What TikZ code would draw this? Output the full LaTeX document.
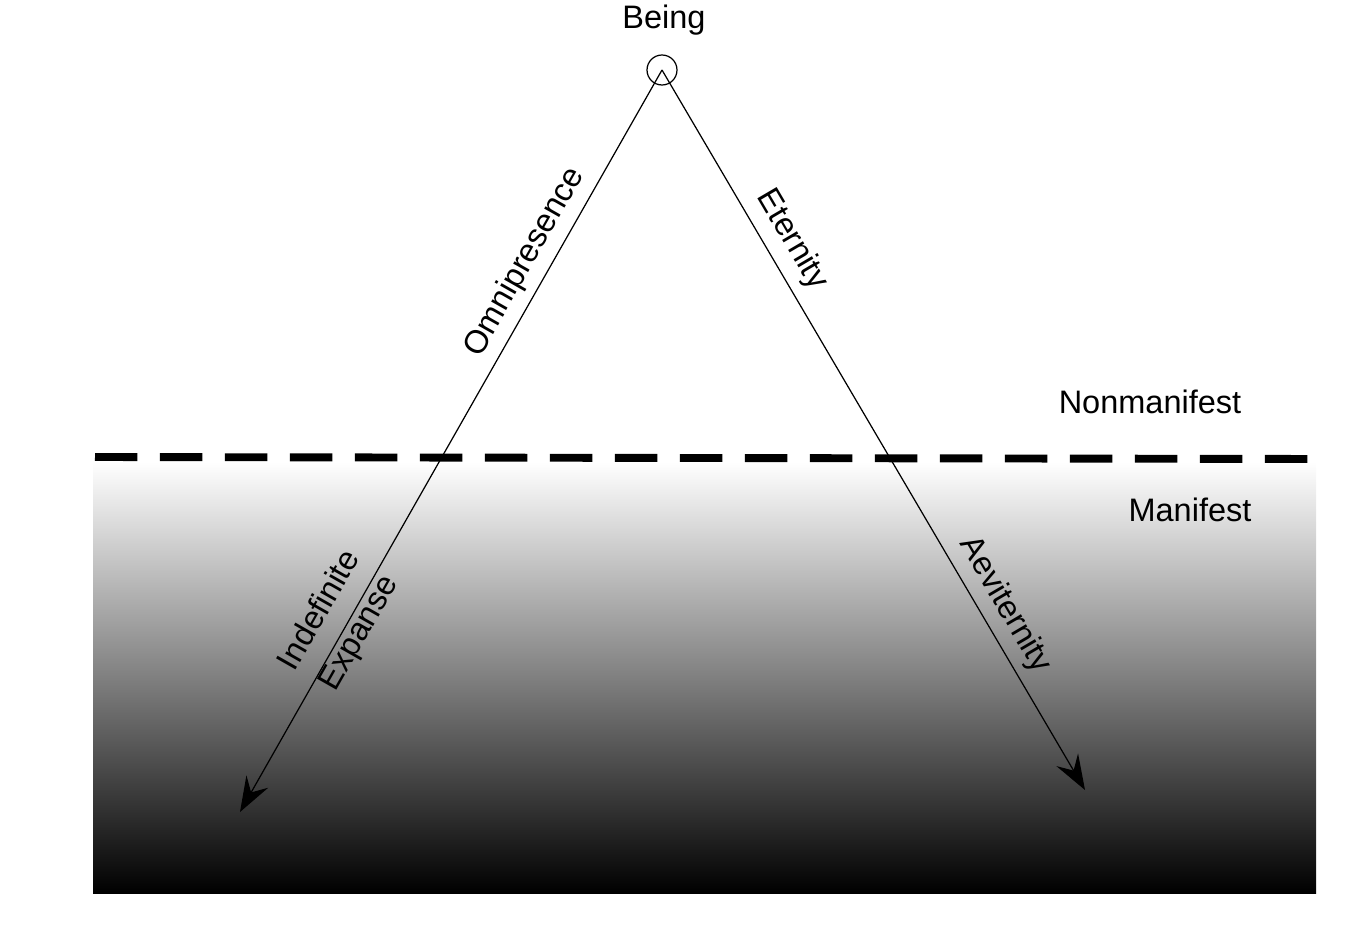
\documentclass[tikz,border=0pt]{standalone}
\usepackage{fontspec}
\setmainfont{Liberation Sans}
\usetikzlibrary{arrows.meta}
\tikzset{
    lbl/.style={font=\fontsize{18.5}{26}\selectfont, inner sep=1pt},
    ray/.style={line width=0.7pt, -{Stealth[length=0.7cm, width=0.5cm, inset=0.25cm]}}
}
\begin{document}
\begin{tikzpicture}[x=0.02cm, y=-0.02cm]
    \useasboundingbox (0,0) rectangle (1353,939);
    % manifest region
    \shade[top color=white, bottom color=black] (93,462) rectangle (1316,893);
    \draw[line width=4.5pt, dash pattern=on 0.85cm off 0.45cm] (95,457) -- (1320,459);
    % nodes
    \node[circle, draw, line width=0.7pt, minimum size=0.6cm, inner sep=0pt] (being) at (662,70) {};
    \coordinate (left) at (240,812);
    \coordinate (right) at (1085,790);
    \node[lbl] (beingtxt) at (664,20) {Being};
    \node[lbl] (nonman) at (1150,402) {Nonmanifest};
    \node[lbl] (man) at (1190,510) {Manifest};
    % rays
    \draw[ray] (being.center) -- (left);
    \draw[ray] (being.center) -- (right);
    \node[lbl, rotate=60.4] (omni) at (525,262) {Omnipresence};
    \node[lbl, rotate=-59.6] (eter) at (792,240) {Eternity};
    \node[lbl, rotate=-59.6] (aevi) at (1005,605) {Aeviternity};
    \node[lbl, rotate=60.4, align=center] (expanse) at (340,622) {Indefinite\\Expanse};
\end{tikzpicture}
\end{document}
